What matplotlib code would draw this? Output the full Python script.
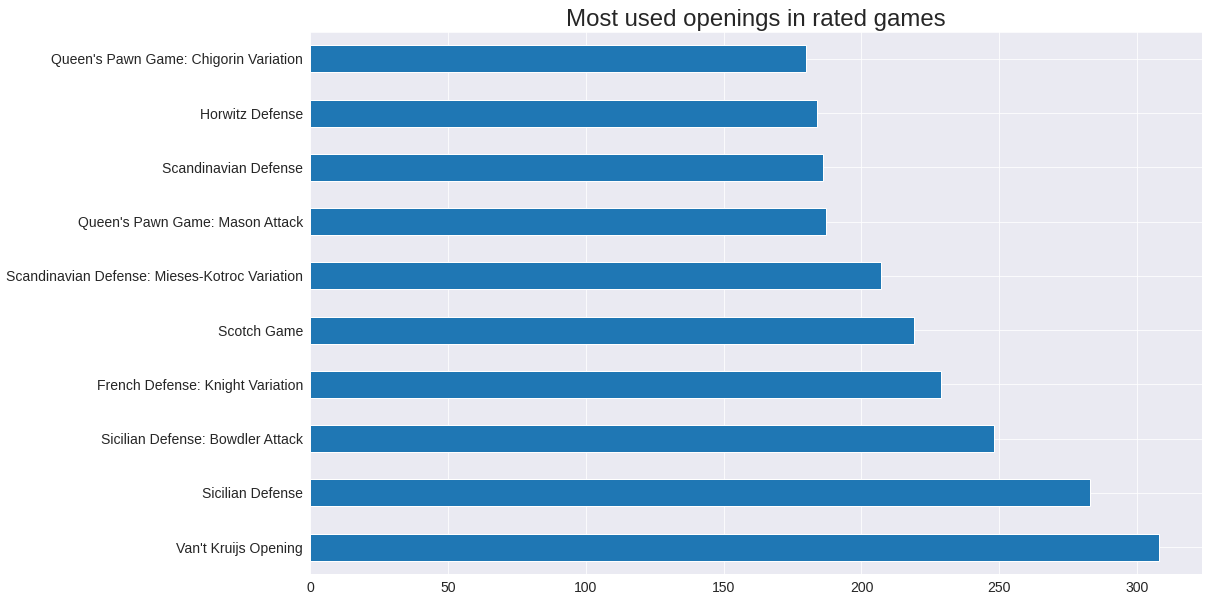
import matplotlib
matplotlib.use("Agg")
import matplotlib.pyplot as plt
import seaborn as sns

openings = [
    "Van't Kruijs Opening",
    "Sicilian Defense",
    "Sicilian Defense: Bowdler Attack",
    "French Defense: Knight Variation",
    "Scotch Game",
    "Scandinavian Defense: Mieses-Kotroc Variation",
    "Queen's Pawn Game: Mason Attack",
    "Scandinavian Defense",
    "Horwitz Defense",
    "Queen's Pawn Game: Chigorin Variation",
]
counts = [308, 283, 248, 229, 219, 207, 187, 186, 184, 180]
title = "Most used openings in rated games"

sns.set_style("darkgrid")
plt.rcParams['font.family'] = ['Liberation Sans', 'DejaVu Sans']

fig = plt.figure(figsize=(1209 / 72, 603 / 72), dpi=72)
ax = fig.add_axes([310 / 1209, 1 - 574.3 / 603, (1201.7 - 310) / 1209, (574.3 - 31.7) / 603])
ax.barh(range(len(openings)), counts, height=0.5, color="#1f77b4", edgecolor="white", linewidth=1)
ax.set_yticks(range(len(openings)))
ax.set_yticklabels(openings)
ax.set_ylim(-0.5, len(openings) - 0.5)
ax.tick_params(axis="both", labelsize=14)
ax.set_title(title, fontsize=24)
fig.savefig("out.png", dpi=72)
